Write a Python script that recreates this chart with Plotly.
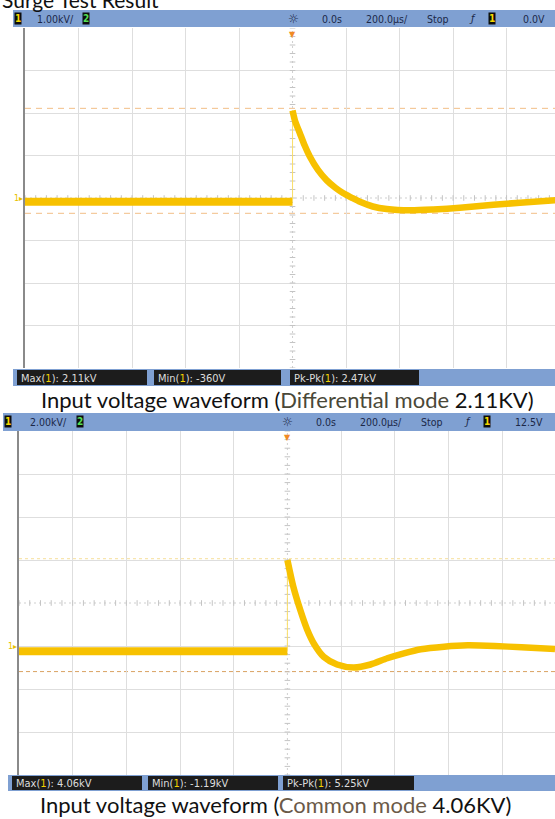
import plotly.graph_objects as go

# ---------------- data ----------------
# time in microseconds (200 us/div), voltage in kV
top_pre_t = [-1000, 0]
top_pre_v = [-0.09, -0.09]
top_t = [0, 10, 27, 45, 65, 95, 127, 160, 190, 220, 252, 300, 352, 440, 526, 626, 751, 850, 985]
top_v = [2.06, 1.80, 1.53, 1.24, 0.97, 0.66, 0.42, 0.24, 0.11, 0.01, -0.09, -0.20, -0.26, -0.29, -0.27, -0.23, -0.16, -0.11, -0.05]
top_max = 2.11
top_min = -0.36

bot_pre_t = [-1000, 0]
bot_pre_v = [-0.25, -0.25]
bot_t = [0, 22, 48, 73, 100, 135, 185, 247, 310, 372, 434, 497, 584, 672, 772, 872, 997]
bot_v = [4.0, 2.76, 1.67, 0.78, 0.08, -0.50, -0.86, -1.0, -0.86, -0.57, -0.34, -0.15, -0.03, 0.03, 0.0, -0.06, -0.14]
bot_max = 4.06
bot_min = -1.19

top_header_left = ["1", "1.00kV/", "2"]
top_header_right = ["0.0s", "200.0µs/", "Stop", "ƒ", "1", "0.0V"]
bot_header_left = ["1", "2.00kV/", "2"]
bot_header_right = ["0.0s", "200.0µs/", "Stop", "ƒ", "1", "12.5V"]
top_meas = [("Max(", "): 2.11kV"), ("Min(", "): -360V"), ("Pk-Pk(", "): 2.47kV")]
bot_meas = [("Max(", "): 4.06kV"), ("Min(", "): -1.19kV"), ("Pk-Pk(", "): 5.25kV")]
top_caption = ("Input voltage waveform (", "Differential mode", " 2.11KV)")
bot_caption = ("Input voltage waveform (", "Common mode", " 4.06KV)")
title_text = "Surge Test Result"

# ---------------- styling ----------------
W, H = 555, 819
AMBER = "#f7c100"
RISE = "#f9de6a"
BLUE = "#7fa0d2"
DARK = "#1c1c1c"
NAVY = "#1b2848"
GRID = "#dedede"
NARROW = "Liberation Sans Narrow, DejaVu Sans Condensed, Arial Narrow, sans-serif"
CAPFONT = "Lato, Open Sans, sans-serif"


def px(x):
    return x / W


def py(y):
    return 1 - y / H


fig = go.Figure()
shapes = []
ann = []


def add_panel(ax, pre_t, pre_v, t, v, vmax, vmin, max_style, min_style):
    xa = "x" if ax == 1 else "x2"
    ya = "y" if ax == 1 else "y2"
    fig.add_trace(go.Scatter(x=pre_t, y=pre_v, mode="lines", xaxis=xa, yaxis=ya,
                             line=dict(color=AMBER, width=8), hoverinfo="skip"))
    fig.add_trace(go.Scatter(x=[t[0], t[0]], y=[pre_v[-1], v[0]], mode="lines", xaxis=xa, yaxis=ya,
                             line=dict(color=RISE, width=1), hoverinfo="skip"))
    fig.add_trace(go.Scatter(x=t, y=v, mode="lines", xaxis=xa, yaxis=ya,
                             line=dict(color=AMBER, width=6.5, shape="spline", smoothing=0.7), hoverinfo="skip"))
    # cursor lines
    shapes.append(dict(type="line", xref=f"{xa} domain", yref=ya, x0=0, x1=1, y0=vmax, y1=vmax,
                       line=max_style, layer="below"))
    shapes.append(dict(type="line", xref=f"{xa} domain", yref=ya, x0=0, x1=1, y0=vmin, y1=vmin,
                       line=min_style, layer="below"))


add_panel(1, top_pre_t, top_pre_v, top_t, top_v, top_max, top_min,
          dict(color="#f2bf86", width=1, dash="6px,5px"), dict(color="#f2bf86", width=1, dash="6px,5px"))
add_panel(2, bot_pre_t, bot_pre_v, bot_t, bot_v, bot_max, bot_min,
          dict(color="#f6df9a", width=1, dash="3px,3px"), dict(color="#d9a262", width=1, dash="4px,3px"))

# centre graticule lines with minor ticks
for xa, ya, ycen, ydiv, xr in [("x", "y", 0, 1, (-1000, 1000)), ("x2", "y2", 2, 2, (-1000, 1000))]:
    shapes.append(dict(type="line", xref=xa, yref=f"{ya} domain", x0=0, x1=0, y0=0, y1=1,
                       line=dict(color="#cfcfcf", width=1, dash="2px,3px"), layer="below"))
    shapes.append(dict(type="line", xref=f"{xa} domain", yref=ya, x0=0, x1=1, y0=ycen, y1=ycen,
                       line=dict(color="#cfcfcf", width=1, dash="2px,3px"), layer="below"))
    hx = [xr[0] + 40 * i for i in range(51)]
    fig.add_trace(go.Scatter(x=hx, y=[ycen] * len(hx), mode="markers", xaxis=xa, yaxis=ya,
                             marker=dict(symbol="line-ns", size=4, line=dict(width=1, color="#c4c4c4")),
                             hoverinfo="skip"))
    vy = [ycen - 4 * ydiv + ydiv * 0.2 * i for i in range(41)]
    fig.add_trace(go.Scatter(x=[0] * len(vy), y=vy, mode="markers", xaxis=xa, yaxis=ya,
                             marker=dict(symbol="line-ew", size=4, line=dict(width=1, color="#c4c4c4")),
                             hoverinfo="skip"))

# reorder so graticule markers are under waveform traces
data = list(fig.data)
wave = [d for d in data if d.mode == "lines"]
marks = [d for d in data if d.mode == "markers"]
fig = go.Figure(data=marks + wave)


def label(x, y, text, size=10.5, color=NAVY, bg=None, xanchor="left", family=NARROW):
    d = dict(x=px(x), y=py(y), xref="paper", yref="paper", text=text, showarrow=False,
             xanchor=xanchor, yanchor="middle", font=dict(size=size, color=color, family=family))
    if bg:
        d.update(bgcolor=bg, borderpad=0)
    ann.append(d)


def header(ytop, ybot, xstart, left, lx, right, rx, sunx):
    shapes.append(dict(type="rect", xref="paper", yref="paper", x0=px(xstart), x1=1, y0=py(ybot), y1=py(ytop),
                       fillcolor=BLUE, line=dict(width=0), layer="above"))
    yc = (ytop + ybot) / 2
    label(lx[0], yc, "<b>" + left[0] + "</b>", size=10, color="#f4d800", bg="#0d0d0d")
    label(lx[1], yc, left[1])
    label(lx[2], yc, "<b>" + left[2] + "</b>", size=10, color="#55e055", bg="#0d0d0d")
    label(sunx, yc, "☼", size=12, color=NAVY, xanchor="center", family="DejaVu Sans")
    for i, txt in enumerate(right):
        if i == 4:
            label(rx[i], yc, "<b>" + txt + "</b>", size=10, color="#f4d800", bg="#0d0d0d")
        elif i == 3:
            label(rx[i], yc, "<i>" + txt + "</i>", size=11)
        else:
            label(rx[i], yc, txt)


def meas(ytop, ybot, xstart, boxes, items):
    shapes.append(dict(type="rect", xref="paper", yref="paper", x0=px(xstart), x1=1, y0=py(ybot), y1=py(ytop),
                       fillcolor=BLUE, line=dict(width=0), layer="above"))
    for (x0, x1), (a, b) in zip(boxes, items):
        shapes.append(dict(type="rect", xref="paper", yref="paper", x0=px(x0), x1=px(x1),
                           y0=py(ybot - 1), y1=py(ytop + 1), fillcolor=DARK,
                           line=dict(width=0), layer="above"))
        label(x0 + 2, (ytop + ybot) / 2 + 0.5,
              a + "<span style='color:#f2d200'>1</span>" + b, size=11, color="#dcdcdc")


header(10, 27, 13, top_header_left, [14, 35, 82], top_header_right,
       [320, 364, 425, 467, 488, 521], 293)
header(413, 431, 3, bot_header_left, [4, 28, 76], bot_header_right,
       [314, 358, 419, 462, 483, 513], 287)
meas(369, 386, 13, [(17, 147), (154, 281), (290, 419)], top_meas)
meas(775, 791, 8, [(12, 142), (148, 278), (283, 414)], bot_meas)

# trigger markers and ground markers
ann.append(dict(x=0, y=py(28), xref="x", yref="paper", text="▼", showarrow=False, yanchor="top",
                font=dict(size=8, color="#f08a24", family="DejaVu Sans")))
ann.append(dict(x=0, y=py(431), xref="x2", yref="paper", text="▼", showarrow=False, yanchor="top",
                font=dict(size=8, color="#f08a24", family="DejaVu Sans")))
ann.append(dict(x=px(25), y=0, xref="paper", yref="y", text="1▸", showarrow=False, xanchor="right",
                font=dict(size=8, color="#e8c000", family="DejaVu Sans")))
ann.append(dict(x=px(19), y=0, xref="paper", yref="y2", text="1▸", showarrow=False, xanchor="right",
                font=dict(size=8, color="#e8c000", family="DejaVu Sans")))

# captions
for (a, b, c), yc, xc, bc in [(top_caption, 399, 287, "#4a4838"), (bot_caption, 804, 275, "#6b5a48")]:
    ann.append(dict(x=px(xc), y=py(yc), xref="paper", yref="paper", showarrow=False, xanchor="center",
                    yanchor="middle", text=a + f"<span style='color:{bc}'>" + b + "</span>" + c,
                    font=dict(size=22, color="#111111", family=CAPFONT)))
# clipped title at very top
ann.append(dict(x=0, y=py(-1), xref="paper", yref="paper", showarrow=False, xanchor="left", yanchor="middle",
                text=title_text, font=dict(size=21, color="#111111", family=CAPFONT)))

axis_common = dict(showticklabels=False, ticks="", zeroline=False, showgrid=True, gridcolor=GRID, gridwidth=1)
fig.update_layout(
    width=W, height=H, margin=dict(l=0, r=0, t=0, b=0), showlegend=False,
    paper_bgcolor="white", plot_bgcolor="white",
    xaxis=dict(domain=[px(25), 1], range=[-1000, 981], tickvals=[-800, -600, -400, -200, 200, 400, 600, 800],
               anchor="y", **axis_common),
    yaxis=dict(domain=[py(368), py(28)], range=[-4, 4], tickvals=[-3, -2, -1, 1, 2, 3], anchor="x",
               showline=True, linecolor="#8a8a8a", linewidth=1.5, **axis_common),
    xaxis2=dict(domain=[px(19), 1], range=[-1000, 997], tickvals=[-800, -600, -400, -200, 200, 400, 600, 800],
                anchor="y2", **axis_common),
    yaxis2=dict(domain=[py(775), py(431)], range=[-6, 10], tickvals=[-4, -2, 0, 4, 6, 8], anchor="x2",
                showline=True, linecolor="#8a8a8a", linewidth=1.5, **axis_common),
    shapes=shapes, annotations=ann,
)
fig.write_html("out.html", config={"displayModeBar": False},
               post_script="document.body.style.margin='0';document.body.style.overflow='hidden';")
